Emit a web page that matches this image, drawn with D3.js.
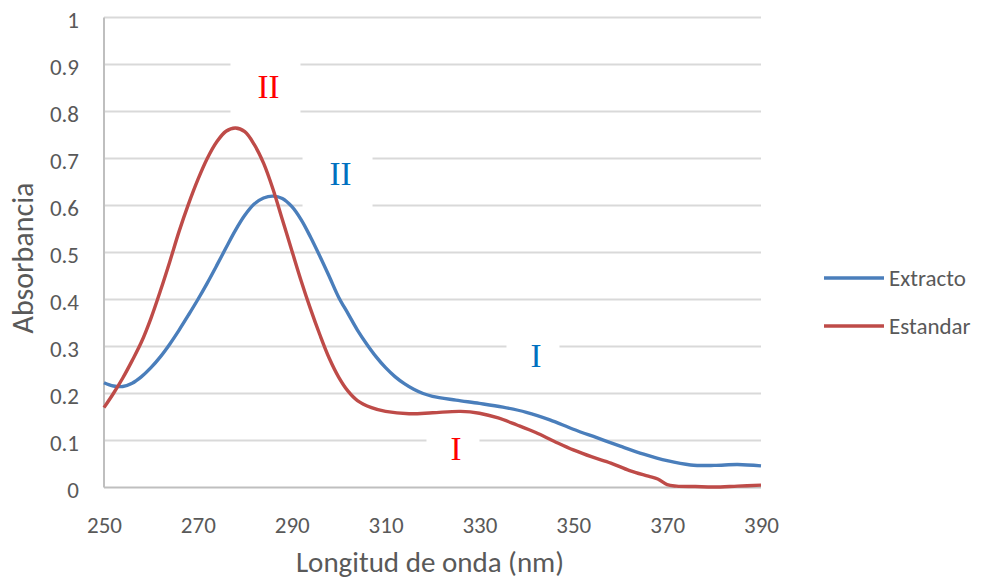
<!DOCTYPE html>
<html>
<head>
<meta charset="utf-8">
<script src="https://cdnjs.cloudflare.com/ajax/libs/d3/7.8.5/d3.min.js"></script>
<style>
  body { margin:0; background:#fff; }
  svg text { font-family: Carlito, Lato, "Open Sans", sans-serif; }
</style>
</head>
<body>
<svg id="chart" width="985" height="581"></svg>
<script>

// ---- data ----
var extractoNm  = [250,252,254,256,258,260,262,264,266,268,270,272,274,276,278,280,282,284,286,288,290,292,294,296,298,300,302,304,306,308,310,312,314,316,318,320,325,330,335,340,345,350,355,360,365,370,375,380,385,390];
var extractoAbs = [0.223,0.216,0.215,0.222,0.236,0.255,0.278,0.305,0.335,0.367,0.40,0.435,0.472,0.51,0.547,0.579,0.603,0.616,0.62,0.615,0.598,0.57,0.533,0.492,0.449,0.405,0.37,0.335,0.305,0.278,0.255,0.236,0.221,0.209,0.20,0.194,0.186,0.179,0.171,0.16,0.144,0.124,0.106,0.088,0.071,0.057,0.048,0.047,0.049,0.046];

var estandarNm  = [250,252,254,256,258,260,262,264,266,268,270,272,274,276,278,280,282,284,286,288,290,292,294,296,298,300,302,304,307,310,315,320,326,330,334,338,342,346,350,354,358,362,366,368,370,372,376,380,385,390];
var estandarAbs = [0.17,0.20,0.233,0.27,0.31,0.36,0.418,0.48,0.545,0.603,0.655,0.70,0.735,0.758,0.765,0.757,0.73,0.69,0.635,0.57,0.505,0.44,0.38,0.325,0.275,0.235,0.205,0.185,0.17,0.162,0.157,0.159,0.162,0.158,0.148,0.133,0.117,0.098,0.08,0.065,0.052,0.036,0.024,0.018,0.006,0.003,0.002,0.001,0.003,0.005];

var xTicks = [250,270,290,310,330,350,370,390];
var yTicks = [0,0.1,0.2,0.3,0.4,0.5,0.6,0.7,0.8,0.9,1];

var seriesNames  = ["Extracto","Estandar"];
var seriesColors = ["#4a7ebb","#be4b48"];

// band labels (I / II): text, anchor wavelength, anchor absorbance
var bandText = ["II","II","I","I"];
var bandNm   = [285.05,300.4,342.05,325.0];
var bandAbs  = [0.852,0.668,0.280,0.082];
var bandColors = ["#ff0000","#0070c0","#0070c0","#ff0000"];

var COLOR_GRID="#d9d9d9";
var COLOR_AXIS="#bfbfbf";
var COLOR_TEXT="#595959";

var margin={left:104, top:17.5};
var W=657, H=470;

var svg=d3.select("#chart");
var g=svg.append("g").attr("transform","translate("+margin.left+","+margin.top+")");

var x=d3.scaleLinear().domain([250,390]).range([0,W]);
var y=d3.scaleLinear().domain([0,1]).range([H,0]);

// gridlines
g.append("g").selectAll("line")
  .data(yTicks.filter(function(d){return d>0;}))
  .enter().append("line")
    .attr("x1",0).attr("x2",W)
    .attr("y1",function(d){return y(d);}).attr("y2",function(d){return y(d);})
    .style("stroke",COLOR_GRID).style("stroke-width",2);

// text boxes of the band labels (white, they cut the gridlines)
var bands=d3.range(bandText.length).map(function(i){
  return {text:bandText[i], nm:bandNm[i], abs:bandAbs[i], color:bandColors[i]};
});

g.append("g").selectAll("rect")
  .data(bands)
  .enter().append("rect")
    .attr("x",function(d){var w=d.text.length>1?70:53; return x(d.nm)-3-w/2;})
    .attr("y",function(d){var h=d.text.length>1?68:44; return y(d.abs)-h/2;})
    .attr("width",function(d){return d.text.length>1?70:53;})
    .attr("height",function(d){return d.text.length>1?68:44;})
    .style("fill","white");

g.append("g").selectAll("text")
  .data(bands)
  .enter().append("text")
    .attr("x",function(d){return x(d.nm);})
    .attr("y",function(d){return y(d.abs);})
    .attr("dy","0.34em")
    .attr("text-anchor","middle")
    .style("font-family","'Liberation Serif','Times New Roman',serif")
    .style("font-size","33px")
    .style("fill",function(d){return d.color;})
    .text(function(d){return d.text;});

// axes lines
g.append("line").attr("x1",0).attr("x2",0).attr("y1",0).attr("y2",H)
  .style("stroke",COLOR_AXIS).style("stroke-width",2);
g.append("line").attr("x1",0).attr("x2",W).attr("y1",H).attr("y2",H)
  .style("stroke",COLOR_AXIS).style("stroke-width",2);

// tick labels
var yAxis=d3.axisLeft(y).tickValues(yTicks).tickSize(0).tickPadding(25)
  .tickFormat(function(d){return String(+d.toFixed(1));});
var gy=g.append("g").call(yAxis);
gy.select(".domain").remove();
gy.selectAll("text").attr("dy","0.42em")
  .style("font-size","23px").style("fill",COLOR_TEXT).style("font-family","Carlito, Lato, sans-serif");

var xAxis=d3.axisBottom(x).tickValues(xTicks).tickSize(0);
var gx=g.append("g").attr("transform","translate(0,"+H+")").call(xAxis);
gx.select(".domain").remove();
gx.selectAll("text").attr("y",45.5).attr("dy",0)
  .style("font-size","23px").style("fill",COLOR_TEXT).style("font-family","Carlito, Lato, sans-serif");

// axis titles
svg.append("text")
  .attr("x",430).attr("y",572)
  .attr("text-anchor","middle")
  .style("font-size","29px").style("fill",COLOR_TEXT)
  .text("Longitud de onda (nm)");

svg.append("text")
  .attr("transform","translate(33,258) rotate(-90)")
  .attr("text-anchor","middle")
  .style("font-size","30px").style("fill",COLOR_TEXT)
  .text("Absorbancia");

// series
var series=[
  {name:seriesNames[0], color:seriesColors[0], nm:extractoNm, abs:extractoAbs},
  {name:seriesNames[1], color:seriesColors[1], nm:estandarNm, abs:estandarAbs}
];

var line=d3.line()
  .x(function(d){return x(d[0]);})
  .y(function(d){return y(d[1]);})
  .curve(d3.curveCatmullRom.alpha(0.5));

g.append("g").selectAll("path")
  .data(series)
  .enter().append("path")
    .attr("d",function(s){return line(d3.zip(s.nm,s.abs));})
    .style("fill","none")
    .style("stroke",function(s){return s.color;})
    .style("stroke-width",3.4)
    .style("stroke-linejoin","round");

// legend
var legend=svg.append("g").attr("transform","translate(824,278)");
series.forEach(function(s,i){
  var lg=legend.append("g").attr("transform","translate(0,"+(i*48)+")");
  lg.append("line").attr("x1",0).attr("x2",60).attr("y1",0).attr("y2",0)
    .style("stroke",s.color).style("stroke-width",3.6);
  lg.append("text").attr("x",65).attr("y",0).attr("dy","0.33em")
    .style("font-size","23px").style("fill",COLOR_TEXT).text(s.name);
});

</script>
</body>
</html>
